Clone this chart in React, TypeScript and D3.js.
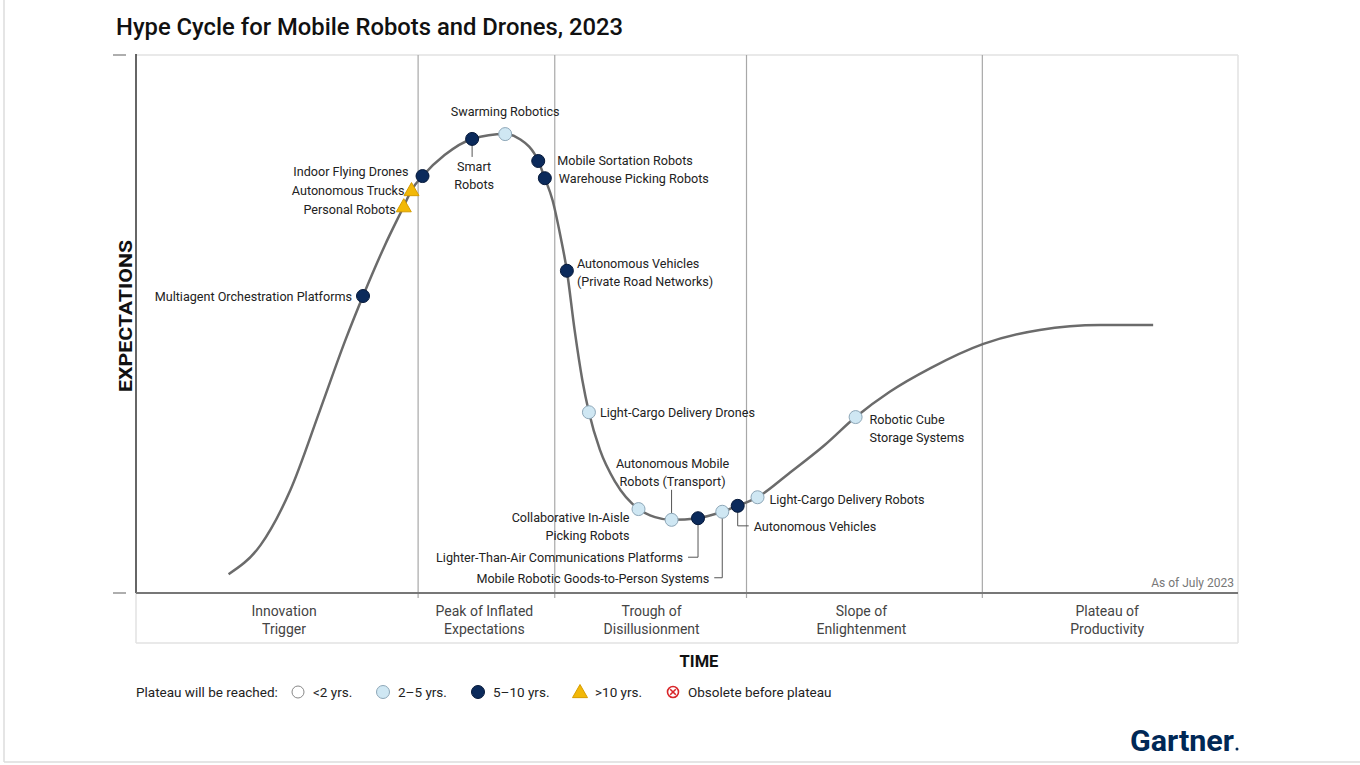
import React from "react";
import * as d3 from "d3";

// ---------- DATA ----------
const title = "Hype Cycle for Mobile Robots and Drones, 2023";

// Hype curve samples: [time (0-100), expectations (0-100)]
const curveTime = [8.4, 11.3, 14.0, 16.7, 19.0, 20.6, 22.6, 24.3, 25.0, 26.0, 28.0, 30.5, 33.5, 34.8, 36.5, 37.1, 37.8, 38.5, 39.1, 39.8, 40.5, 41.1, 42.1, 43.5, 45.6, 47.1, 48.6, 51.0, 53.2, 54.6, 56.4, 59.3, 62.5, 65.3, 68.4, 72.1, 76.9, 82.0, 87.5, 92.3];
const curveExpect = [3.5, 8.9, 19.1, 34.0, 47.0, 55.2, 64.7, 71.9, 74.9, 77.5, 81.4, 84.4, 85.3, 84.4, 80.3, 77.1, 73.0, 66.5, 59.9, 48.9, 39.6, 33.6, 26.6, 20.6, 15.6, 14.1, 13.6, 13.9, 15.1, 16.2, 17.8, 22.3, 27.5, 32.7, 37.4, 41.8, 46.3, 48.9, 49.8, 49.8];

const techNames = [
  "Multiagent Orchestration Platforms",
  "Personal Robots",
  "Autonomous Trucks",
  "Indoor Flying Drones",
  "Smart Robots",
  "Swarming Robotics",
  "Mobile Sortation Robots",
  "Warehouse Picking Robots",
  "Autonomous Vehicles (Private Road Networks)",
  "Light-Cargo Delivery Drones",
  "Collaborative In-Aisle Picking Robots",
  "Autonomous Mobile Robots (Transport)",
  "Lighter-Than-Air Communications Platforms",
  "Mobile Robotic Goods-to-Person Systems",
  "Autonomous Vehicles",
  "Light-Cargo Delivery Robots",
  "Robotic Cube Storage Systems",
];
const techTime = [20.6, 24.3, 25.0, 26.0, 30.5, 33.5, 36.5, 37.1, 39.1, 41.1, 45.6, 48.6, 51.0, 53.2, 54.6, 56.4, 65.3];
const techExpect = [55.2, 71.9, 74.9, 77.5, 84.4, 85.3, 80.3, 77.1, 59.9, 33.6, 15.6, 13.6, 13.9, 15.1, 16.2, 17.8, 32.7];
const techPlateau = ["5-10", ">10", ">10", "5-10", "5-10", "2-5", "5-10", "5-10", "5-10", "2-5", "2-5", "2-5", "5-10", "2-5", "5-10", "2-5", "2-5"];

const phaseBounds = [0, 25.6, 38.0, 55.4, 76.8, 100];
const phaseLabels = [
  ["Innovation", "Trigger"],
  ["Peak of Inflated", "Expectations"],
  ["Trough of", "Disillusionment"],
  ["Slope of", "Enlightenment"],
  ["Plateau of", "Productivity"],
];

const legendLabels = ["<2 yrs.", "2\u20135 yrs.", "5\u201310 yrs.", ">10 yrs.", "Obsolete before plateau"];
const legendKeys = ["<2", "2-5", "5-10", ">10", "obsolete"];

// ---------- LAYOUT / STYLE ----------
type LabelLayout = {
  lines: string[];
  anchor: "start" | "middle" | "end";
  dx: number;
  dy: number;
  leader?: [number, number][];
};
const labelLayout: Record<string, LabelLayout> = {
  "Multiagent Orchestration Platforms": { lines: ["Multiagent Orchestration Platforms"], anchor: "end", dx: -11, dy: 0 },
  "Personal Robots": { lines: ["Personal Robots"], anchor: "end", dx: -8, dy: 3 },
  "Autonomous Trucks": { lines: ["Autonomous Trucks"], anchor: "end", dx: -7, dy: 0 },
  "Indoor Flying Drones": { lines: ["Indoor Flying Drones"], anchor: "end", dx: -14, dy: -5 },
  "Smart Robots": { lines: ["Smart", "Robots"], anchor: "middle", dx: 2, dy: 27, leader: [[0, 6], [0, 18]] },
  "Swarming Robotics": { lines: ["Swarming Robotics"], anchor: "middle", dx: 0, dy: -23 },
  "Mobile Sortation Robots": { lines: ["Mobile Sortation Robots"], anchor: "start", dx: 19, dy: -1 },
  "Warehouse Picking Robots": { lines: ["Warehouse Picking Robots"], anchor: "start", dx: 14, dy: 0 },
  "Autonomous Vehicles (Private Road Networks)": { lines: ["Autonomous Vehicles", "(Private Road Networks)"], anchor: "start", dx: 10, dy: -8 },
  "Light-Cargo Delivery Drones": { lines: ["Light-Cargo Delivery Drones"], anchor: "start", dx: 11, dy: 0 },
  "Collaborative In-Aisle Picking Robots": { lines: ["Collaborative In-Aisle", "Picking Robots"], anchor: "end", dx: -9, dy: 8 },
  "Autonomous Mobile Robots (Transport)": { lines: ["Autonomous Mobile", "Robots (Transport)"], anchor: "middle", dx: 1, dy: -57, leader: [[0, -30], [0, -6]] },
  "Lighter-Than-Air Communications Platforms": { lines: ["Lighter-Than-Air Communications Platforms"], anchor: "end", dx: -15, dy: 39, leader: [[0, 6], [0, 39], [-10, 39]] },
  "Mobile Robotic Goods-to-Person Systems": { lines: ["Mobile Robotic Goods-to-Person Systems"], anchor: "end", dx: -13, dy: 66, leader: [[0, 6], [0, 66], [-8, 66]] },
  "Autonomous Vehicles": { lines: ["Autonomous Vehicles"], anchor: "start", dx: 16, dy: 20, leader: [[0, 6], [0, 20], [11, 20]] },
  "Light-Cargo Delivery Robots": { lines: ["Light-Cargo Delivery Robots"], anchor: "start", dx: 12, dy: 2 },
  "Robotic Cube Storage Systems": { lines: ["Robotic Cube", "Storage Systems"], anchor: "start", dx: 14, dy: 2 },
};
const phaseLabelShift = [7, -2, 1, -3, -3];

const plot = { left: 136, right: 1238, top: 55, bottom: 593 };
const NAVY = "#0b2a5b";
const LIGHT = "#cfe7f3";
const LIGHT_STROKE = "#8ea7b8";
const YELLOW = "#f2b807";
const FONT = "Roboto, 'Noto Sans', sans-serif";

function Marker({ kind, x, y }: { kind: string; x: number; y: number }) {
  if (kind === ">10") {
    const s = 7.5;
    const p = `${x},${y - s} ${x + s},${y + s * 0.75} ${x - s},${y + s * 0.75}`;
    return <polygon points={p} fill={YELLOW} stroke="#d69c00" strokeWidth={1} />;
  }
  if (kind === "5-10") return <circle cx={x} cy={y} r={6.5} fill={NAVY} stroke="#06193a" strokeWidth={1} />;
  if (kind === "2-5") return <circle cx={x} cy={y} r={6.5} fill={LIGHT} stroke={LIGHT_STROKE} strokeWidth={1} />;
  if (kind === "<2") return <circle cx={x} cy={y} r={6} fill="#fff" stroke="#888" strokeWidth={1} />;
  return (
    <g>
      <circle cx={x} cy={y} r={5.5} fill="#fff" stroke="#d9262a" strokeWidth={1.6} />
      <path d={`M${x - 2.8},${y - 2.8}L${x + 2.8},${y + 2.8}M${x + 2.8},${y - 2.8}L${x - 2.8},${y + 2.8}`} stroke="#d9262a" strokeWidth={1.6} />
    </g>
  );
}

export default function App() {
  const x = d3.scaleLinear().domain([0, 100]).range([plot.left, plot.right]);
  const y = d3.scaleLinear().domain([0, 100]).range([plot.bottom, plot.top]);

  const curvePts: [number, number][] = curveTime.map((t, i) => [t, curveExpect[i]]);
  const line = d3
    .line<[number, number]>()
    .x((d) => x(d[0]))
    .y((d) => y(d[1]))
    .curve(d3.curveMonotoneX);

  const legendX = [298, 383, 478, 580, 673];
  const legendY = 692;

  return (
    <svg
      width={1360}
      height={765}
      style={{ position: "absolute", left: 0, top: 0, background: "#fff" }}
      fontFamily={FONT}
    >
      <rect x={0} y={0} width={1360} height={765} fill="#fff" />
      {/* outer frame */}
      <line x1={4} y1={0} x2={4} y2={762} stroke="#dcdcdc" strokeWidth={1.5} />
      <line x1={4} y1={762} x2={1360} y2={762} stroke="#dcdcdc" strokeWidth={1.5} />

      {/* title */}
      <text x={116} y={35} fontSize={23.8} fontWeight={500} fill="#111">
        {title}
      </text>

      {/* plot frame */}
      <line x1={plot.left} y1={plot.top} x2={plot.right} y2={plot.top} stroke="#e2e2e2" strokeWidth={1.5} />
      <line x1={plot.right} y1={plot.top} x2={plot.right} y2={643} stroke="#e2e2e2" strokeWidth={1.5} />
      <line x1={plot.left} y1={643} x2={plot.right} y2={643} stroke="#e2e2e2" strokeWidth={1.5} />
      <line x1={plot.left} y1={plot.bottom} x2={plot.left} y2={643} stroke="#e2e2e2" strokeWidth={1.5} />

      {/* phase dividers */}
      {phaseBounds.slice(1, -1).map((b, i) => (
        <line key={i} x1={x(b)} y1={plot.top} x2={x(b)} y2={plot.bottom + 5} stroke="#a8a8a8" strokeWidth={1.2} />
      ))}

      {/* axes */}
      <line x1={plot.left} y1={plot.top - 1} x2={plot.left} y2={plot.bottom} stroke="#333" strokeWidth={1.5} />
      <line x1={plot.left} y1={plot.bottom} x2={plot.right} y2={plot.bottom} stroke="#777" strokeWidth={2} />
      <line x1={113} y1={y(100)} x2={126} y2={y(100)} stroke="#777" strokeWidth={1.2} />
      <line x1={113} y1={y(0)} x2={126} y2={y(0)} stroke="#777" strokeWidth={1.2} />

      {/* phase labels */}
      {phaseLabels.map((lines, i) => {
        const cx = (x(phaseBounds[i]) + x(phaseBounds[i + 1])) / 2 + phaseLabelShift[i];
        return (
          <text key={i} x={cx} textAnchor="middle" fontSize={14} fill="#444">
            {lines.map((l, j) => (
              <tspan key={j} x={cx} y={616 + j * 18}>
                {l}
              </tspan>
            ))}
          </text>
        );
      })}

      {/* axis titles */}
      <text x={699} y={667} textAnchor="middle" fontSize={16.5} fontWeight={700} fill="#111">
        TIME
      </text>
      <text
        transform={`translate(132,316) rotate(-90)`}
        textAnchor="middle"
        fontSize={19}
        fontWeight={700}
        fill="#111"
        textLength={152}
        lengthAdjust="spacingAndGlyphs"
      >
        EXPECTATIONS
      </text>

      <text x={1234} y={587} textAnchor="end" fontSize={12} fill="#777">
        As of July 2023
      </text>

      {/* curve */}
      <path d={line(curvePts) || ""} fill="none" stroke="#6b6b6b" strokeWidth={2.5} />

      {/* leaders */}
      {techNames.map((n, i) => {
        const lay = labelLayout[n];
        if (!lay.leader) return null;
        const px = x(techTime[i]);
        const py = y(techExpect[i]);
        const pts = lay.leader.map((p) => `${px + p[0]},${py + p[1]}`).join(" ");
        return <polyline key={n} points={pts} fill="none" stroke="#555" strokeWidth={1} />;
      })}

      {/* markers */}
      {techNames.map((n, i) => (
        <Marker key={n} kind={techPlateau[i]} x={x(techTime[i])} y={y(techExpect[i])} />
      ))}

      {/* labels */}
      {techNames.map((n, i) => {
        const lay = labelLayout[n];
        const px = x(techTime[i]) + lay.dx;
        const py = y(techExpect[i]) + lay.dy;
        return (
          <text key={n} textAnchor={lay.anchor} fontSize={12.6} fill="#222" dominantBaseline="central">
            {lay.lines.map((l, j) => (
              <tspan key={j} x={px} y={py + j * 18}>
                {l}
              </tspan>
            ))}
          </text>
        );
      })}

      {/* legend */}
      <text x={136} y={legendY} fontSize={13.5} fill="#222" dominantBaseline="central">
        Plateau will be reached:
      </text>
      {legendKeys.map((k, i) => (
        <g key={k}>
          <Marker kind={k} x={legendX[i]} y={legendY} />
          <text x={legendX[i] + 15} y={legendY} fontSize={13.5} fill="#222" dominantBaseline="central">
            {legendLabels[i]}
          </text>
        </g>
      ))}

      {/* logo */}
      <text x={1130} y={751} fontSize={30} fontWeight={700} fill="#002856" textLength={104} lengthAdjust="spacingAndGlyphs">
        Gartner
      </text>
      <circle cx={1237} cy={749} r={1.5} fill="#002856" />
    </svg>
  );
}
